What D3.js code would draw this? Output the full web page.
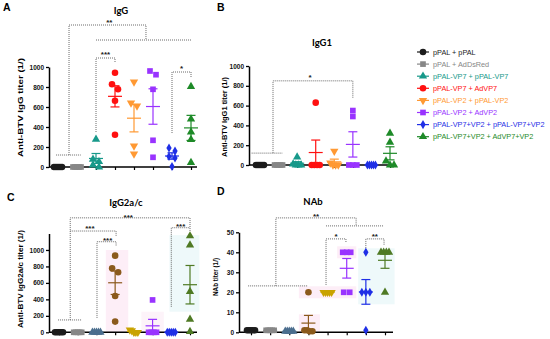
<!DOCTYPE html>
<html>
<head>
<meta charset="utf-8">
<script src="https://cdnjs.cloudflare.com/ajax/libs/d3/7.8.5/d3.min.js"></script>
<style>
  body { margin: 0; background: #fff; }
  svg { display: block; font-family: "Liberation Sans", Arial, sans-serif; }
</style>
</head>
<body>
<div id="plot"></div>
<script>
//Groups, symbols and colours
var groups = ["pPAL + pPAL", "pPAL + AdDsRed", "pPAL-VP7 + pPAL-VP7", "pPAL-VP7 + AdVP7",
              "pPAL-VP2 + pPAL-VP2", "pPAL-VP2 + AdVP2", "pPAL-VP7+VP2 + pPAL-VP7+VP2",
              "pPAL-VP7+VP2 + AdVP7+VP2"];
var shapes = ["circle", "square", "triangle", "circle", "triangleDown", "square", "diamond", "triangle"];
var colorsAB = ["#1c1c1c", "#878787", "#17998a", "#ff1010", "#ff9933", "#9933ff", "#1f2fe6", "#1e8a28"];
var colorsCD = ["#1c1c1c", "#878787", "#4b6e8e", "#8b5a1c", "#c9a300", "#9933ff", "#1f2fe6", "#4f7a24"];

//Titers per mouse (5 per group)
var iggValues = [
  [0, 0, 0, 0, 0], [0, 0, 0, 0, 0], [277, 77, 53, 20, 0], [943, 827, 777, 663, 323],
  [850, 640, 610, 210, 130], [960, 923, 777, 267, 97], [190, 160, 105, 90, 5], [805, 480, 350, 275, 45]
];
var igg1Values = [
  [0, 0, 0, 0, 0], [0, 0, 0, 0, 0], [80, 10, 0, 0, 0], [630, 0, 0, 0, 0],
  [140, 20, 0, 0, 0], [550, 490, 0, 0, 0], [0, 0, 0, 0, 0], [320, 230, 40, 0, 0]
];
var igg2acValues = [
  [0, 0, 0, 0, 0], [0, 0, 0, 0, 0], [0, 0, 0, 0, 0], [931, 777, 729, 441, 130],
  [30, 20, 0, 0, 0], [393, 0, 0, 0, 0], [0, 0, 0, 0, 0], [1170, 1060, 494, 158, 8]
];
var nabValues = [
  [1, 1, 1, 1, 1], [1, 1, 1, 1, 1], [0.5, 0.5, 0.5, 0.5, 0.5], [20, 1, 1, 0.5, 0.5],
  [20, 20, 20, 20, 20], [40, 40, 40, 20, 20], [40, 20, 20, 20, 1], [40, 40, 40, 40, 20]
];

//Tick labels
var ticksIgG = [0, 200, 400, 600, 800, 1000];
var ticksNab = [0, 10, 20, 30, 40, 50];

//Significance brackets: polylines of [group index, value], stars [group index, value, text]
var bracketsA = [
  [[-0.1, 120], [1.2, 120]],
  [[0.58, 120], [0.58, 1420], [4.63, 1420], [4.63, 1270]],
  [[2, 1270], [7, 1270]],
  [[2, 350], [2, 1090], [3, 1090], [3, 1040]],
  [[6, 340], [6, 950], [7, 950], [7, 890]]
];
var starsA = [[2.7, 1424, "**"], [2.5, 1104, "***"], [6.5, 964, "*"]];
var bracketsB = [
  [[-0.45, 120], [1.2, 120]],
  [[0.7, 120], [0.7, 850], [5, 850], [5, 670]]
];
var starsB = [[2.7, 863, "*"]];
var bracketsC = [
  [[-0.05, 150], [1.23, 150]],
  [[0.6, 150], [0.6, 1390], [7, 1390], [7, 1270]],
  [[0.6, 1230], [3.05, 1230], [3.05, 1170]],
  [[2.03, 175], [2.03, 1100], [3.05, 1100], [3.05, 1050]],
  [[6, 310], [6, 1270], [7, 1270], [7, 1220]]
];
var starsC = [[3.7, 1369, "***"], [1.65, 1236, "***"], [2.6, 1090, "***"], [6.5, 1260, "***"]];
var bracketsD = [
  [[-0.15, 23.2], [2.95, 23.2]],
  [[1.3, 23.2], [1.3, 57.2], [5.49, 57.2], [5.49, 53.2]],
  [[3.92, 53.2], [6.9, 53.2]],
  [[3.92, 23.7], [3.92, 46.7], [4.96, 46.7], [4.96, 44.7]],
  [[6.0, 41.2], [6.0, 46.7], [6.95, 46.7], [6.95, 43.7]]
];
var starsD = [[3.4, 56.9, "**"], [4.44, 46.9, "*"], [6.47, 46.9, "**"]];

//Faint highlight boxes behind some groups: [from idx, to idx, low value, high value, colour]
var shadeC = [[2.5, 3.7, 0, 1000, "#fdeef7"], [5.9, 7.5, 250, 1180, "#eef9fa"], [4.4, 5.6, 0, 250, "#fdf3f9"]];
var shadeD = [[2.5, 3.6, 0, 9, "#fdeef7"], [2.5, 5.5, 17, 23, "#fdeef7"], [4.5, 5.5, 37, 43, "#fdeef7"],
              [5.6, 7.5, 14, 42, "#eef9fa"]];

var panels = [
  {letter: "A", title: "IgG", label: "Anti-BTV IgG titer (1/)", values: iggValues, colors: colorsAB,
   ticks: ticksIgG, domain: [0, 1000], yRange: [167, 67], xAxis: [49, 197], xRange: [58, 191],
   titlePos: [121, 14], letterPos: [3, 11], labelPos: [23, 107.5], labelLen: 99,
   brackets: bracketsA, stars: starsA, shade: []},
  {letter: "B", title: "IgG1", label: "Anti-BTV IgG1 titer (1/)", values: igg1Values, colors: colorsAB,
   ticks: ticksIgG, domain: [0, 1000], yRange: [165, 66], xAxis: [249, 395], xRange: [260, 390],
   titlePos: [322, 46], letterPos: [217, 10.5], labelPos: [227, 117], labelLen: 80,
   brackets: bracketsB, stars: starsB, shade: []},
  {letter: "C", title: "IgG2a/c", label: "Anti-BTV IgG2a/c titer (1/)", values: igg2acValues, colors: colorsCD,
   ticks: ticksIgG, domain: [0, 1200], yRange: [332.3, 233.5], xAxis: [49, 197], xRange: [59, 190],
   titlePos: [126, 206], letterPos: [7, 201], labelPos: [23, 279], labelLen: 98,
   brackets: bracketsC, stars: starsC, shade: shadeC},
  {letter: "D", title: "NAb", label: "NAb titer (1/)", values: nabValues, colors: colorsCD,
   ticks: ticksNab, domain: [0, 50], yRange: [332.3, 232.3], xAxis: [239, 393], xRange: [251, 385],
   titlePos: [313, 205], letterPos: [217, 195], labelPos: [218, 277], labelLen: 38,
   brackets: bracketsD, stars: starsD, shade: shadeD}
];

var svg = d3.select("#plot").append("svg")
    .attr("width", 550)
    .attr("height", 339);

var symbolTypes = {circle: d3.symbolCircle, square: d3.symbolSquare, triangle: d3.symbolTriangle,
                   triangleDown: d3.symbolTriangle, diamond: d3.symbolDiamond};
var symbolSizes = {circle: 34, square: 32, triangle: 30, triangleDown: 30, diamond: 24};

function symbolPath(shape) {
  return d3.symbol().type(symbolTypes[shape]).size(symbolSizes[shape])();
}

//Spread points that sit on (almost) the same height, centred on the group
function spread(values, y) {
  var pts = values.map(function(v) { return {v: v, py: y(v)}; })
    .sort(function(a, b) { return a.py - b.py; });
  var clusters = [];
  pts.forEach(function(p) {
    var last = clusters[clusters.length - 1];
    if (last && p.py - last[0].py < 5) last.push(p);
    else clusters.push([p]);
  });
  clusters.forEach(function(c) {
    var width = Math.min((c.length - 1) * 6, 8);
    c.forEach(function(p, i) {
      p.dx = c.length > 1 ? -width / 2 + i * width / (c.length - 1) : 0;
    });
  });
  return pts;
}

panels.forEach(function(p) {
  var g = svg.append("g");
  var x = d3.scalePoint().domain(d3.range(groups.length)).range(p.xRange);
  var step = x.step();
  var xi = function(i) { return p.xRange[0] + i * step; };
  var y = d3.scaleLinear().domain(p.domain).range(p.yRange);

  //Highlight boxes
  g.selectAll(".shade")
      .data(p.shade)
    .enter().append("rect")
      .attr("x", function(d) { return xi(d[0]); })
      .attr("width", function(d) { return xi(d[1]) - xi(d[0]); })
      .attr("y", function(d) { return y(d[3]); })
      .attr("height", function(d) { return y(d[2]) - y(d[3]); })
      .style("fill", function(d) { return d[4]; });

  //Brackets
  var line = d3.line()
      .x(function(d) { return xi(d[0]); })
      .y(function(d) { return y(d[1]); });
  g.selectAll(".bracket")
      .data(p.brackets)
    .enter().append("path")
      .attr("d", line)
      .style("fill", "none")
      .style("stroke", "#6a6a6a")
      .style("stroke-width", 1)
      .style("stroke-dasharray", "1,1");
  g.selectAll(".star")
      .data(p.stars)
    .enter().append("text")
      .attr("x", function(d) { return xi(d[0]); })
      .attr("y", function(d) { return y(d[1]); })
      .style("text-anchor", "middle")
      .style("font-size", "8px")
      .style("font-weight", "bold")
      .style("fill", "#222")
      .text(function(d) { return d[2]; });

  //Axes
  var yAxis = d3.axisLeft(y).tickValues(p.ticks).tickFormat(d3.format("d"))
      .tickSize(3).tickPadding(2).tickSizeOuter(0);
  var ya = g.append("g")
      .attr("class", "y axis")
      .attr("transform", "translate(" + p.xAxis[0] + ",0)")
      .call(yAxis);
  ya.select(".domain").style("stroke-width", 1.5);
  ya.selectAll(".tick line").style("stroke-width", 1.3);
  ya.selectAll(".tick text")
      .style("font-size", "6.5px")
      .style("font-weight", "bold")
      .style("fill", "#111");

  var xAxis = d3.axisBottom(x).tickSize(3).tickFormat("").tickSizeOuter(0);
  var xa = g.append("g")
      .attr("class", "x axis")
      .attr("transform", "translate(0," + p.yRange[0] + ")")
      .call(xAxis);
  xa.select(".domain").remove();
  xa.selectAll(".tick line").style("stroke-width", 1.2);
  xa.append("line")
      .attr("x1", p.xAxis[0]).attr("x2", p.xAxis[1])
      .style("stroke", "#000")
      .style("stroke-width", 1.5);

  //Labels
  g.append("text")
      .attr("transform", "translate(" + p.labelPos[0] + "," + p.labelPos[1] + ") rotate(-90)")
      .attr("textLength", p.labelLen)
      .attr("lengthAdjust", "spacingAndGlyphs")
      .style("text-anchor", "middle")
      .style("font-size", "7px")
      .style("font-weight", "bold")
      .text(p.label);
  g.append("text")
      .attr("x", p.titlePos[0]).attr("y", p.titlePos[1])
      .style("text-anchor", "middle")
      .style("font-family", "Lato, sans-serif")
      .style("font-size", "9.5px")
      .style("font-weight", "bold")
      .text(p.title);
  g.append("text")
      .attr("x", p.letterPos[0]).attr("y", p.letterPos[1])
      .style("font-size", "10.5px")
      .style("font-weight", "bold")
      .text(p.letter);

  //Points and mean +/- SEM
  p.values.forEach(function(vals, i) {
    var color = p.colors[i];
    var cx = x(i);
    g.selectAll(".pt" + i)
        .data(spread(vals, y))
      .enter().append("path")
        .attr("d", symbolPath(shapes[i]))
        .attr("transform", function(d) {
          return "translate(" + (cx + d.dx) + "," + d.py + ")" +
                 (shapes[i] === "triangleDown" ? " rotate(180)" : "");
        })
        .style("fill", color);

    var mean = d3.mean(vals);
    var sem = (d3.deviation(vals) || 0) / Math.sqrt(vals.length);
    var eb = g.append("g").style("stroke", color).style("stroke-width", 1.2);
    eb.append("line")
        .attr("x1", cx - 7).attr("x2", cx + 7)
        .attr("y1", y(mean)).attr("y2", y(mean));
    if (sem > 0) {
      eb.append("line")
          .attr("x1", cx).attr("x2", cx)
          .attr("y1", y(mean - sem)).attr("y2", y(mean + sem));
      [mean - sem, mean + sem].forEach(function(v) {
        eb.append("line")
            .attr("x1", cx - 4.5).attr("x2", cx + 4.5)
            .attr("y1", y(v)).attr("y2", y(v));
      });
    }
  });
});

//Legend
var legend = svg.selectAll(".legend")
    .data(groups)
  .enter().append("g")
    .attr("transform", function(d, i) { return "translate(423," + (52 + i * 12.1) + ")"; });
legend.append("line")
    .attr("x1", -6).attr("x2", 6)
    .style("stroke", function(d, i) { return colorsAB[i]; })
    .style("stroke-width", 1.2);
legend.append("path")
    .attr("d", function(d, i) { return symbolPath(shapes[i]); })
    .attr("transform", function(d, i) { return shapes[i] === "triangleDown" ? "rotate(180)" : null; })
    .style("fill", function(d, i) { return colorsAB[i]; });
legend.append("text")
    .attr("x", 10)
    .attr("y", 2.6)
    .style("font-size", "7.3px")
    .style("fill", function(d, i) { return colorsAB[i]; })
    .text(function(d) { return d; });
</script>
</body>
</html>
